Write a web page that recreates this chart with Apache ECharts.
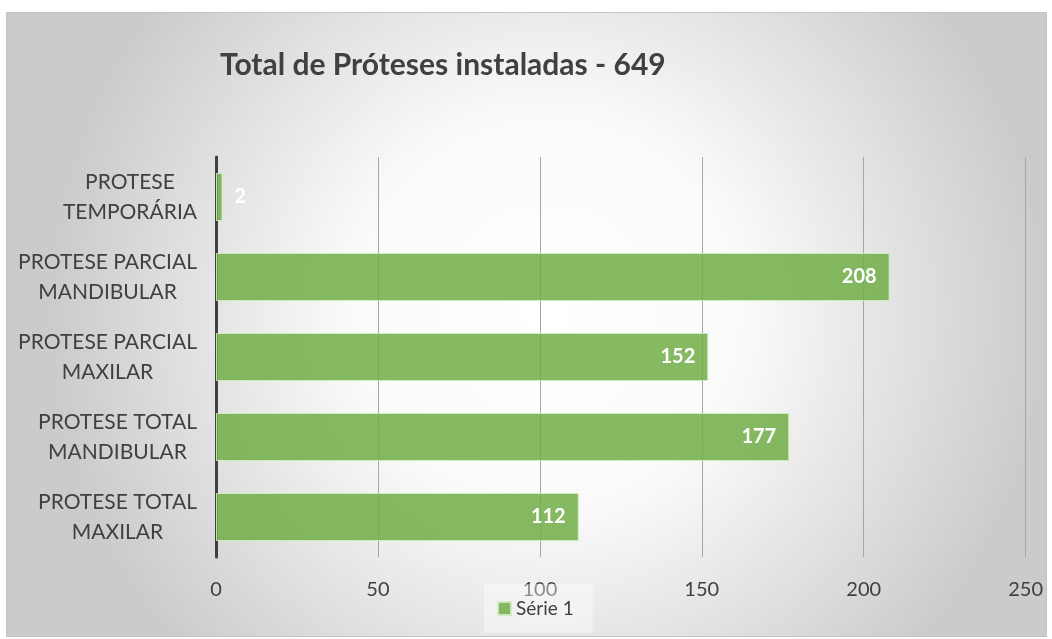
<!DOCTYPE html>
<html><head><meta charset="utf-8">
<script src="https://cdn.jsdelivr.net/npm/echarts@6/dist/echarts.min.js"></script>
<style>
html,body{margin:0;padding:0;background:#fff;width:1052px;height:639px;overflow:hidden}
#c{position:absolute;left:6px;top:12px;width:1039px;height:623px;border:1px solid #c4c4c4}
</style></head>
<body><div id="c"></div>
<script>
const titleText = 'Total de Próteses instaladas - 649';
const categories = ['PROTESE TOTAL\nMAXILAR','PROTESE TOTAL\nMANDIBULAR','PROTESE PARCIAL\nMAXILAR','PROTESE PARCIAL\nMANDIBULAR','PROTESE\nTEMPORÁRIA'];
const values = [112,177,152,208,2];
const seriesName = 'Série 1';
const xTicks = [0,50,100,150,200,250];

const font = 'Lato, "Open Sans", sans-serif';
const chart = echarts.init(document.getElementById('c'));
chart.setOption({
  backgroundColor: {type:'radial', x:0.52, y:0.48, r:0.8,
    colorStops:[{offset:0,color:'#ffffff'},{offset:0.4,color:'#fafafa'},{offset:1,color:'#cbcbcb'}]},
  textStyle:{fontFamily:font},
  title:{text:titleText, left:208, top:32,
    textStyle:{fontFamily:font, fontSize:30, fontWeight:'bold', color:'#404040'}},
  legend:{data:[seriesName], left:477, top:571, icon:'rect', itemWidth:13, itemHeight:13, itemGap:5,
    backgroundColor:'rgba(255,255,255,0.4)', padding:[15,19,15,13],
    textStyle:{fontFamily:font, fontSize:19, color:'#404040'}},
  grid:{left:209, right:19, top:144, bottom:79, containLabel:false},
  xAxis:{type:'value', min:xTicks[0], max:xTicks[xTicks.length-1], interval:50,
    axisLine:{show:false}, axisTick:{show:false},
    splitLine:{show:true, lineStyle:{color:'#a6a6a6', width:1}},
    axisLabel:{fontSize:20, color:'#404040', margin:23, fontFamily:font}},
  yAxis:{type:'category', data:categories,
    axisLine:{show:true, lineStyle:{color:'#404040', width:3}}, axisTick:{show:false},
    axisLabel:{fontSize:21, color:'#404040', margin:19, align:'right', lineHeight:30, fontFamily:font,
      formatter: v => v.split('\n').map(s=>'{a|'+s+'}').join('\n'),
      rich:{a:{align:'center', fontSize:21, lineHeight:30, color:'#404040', fontFamily:font}}}},
  series:[{name:seriesName, type:'bar', barCategoryGap:'40%',
    data: values.map(v => v < 20 ? {value:v, label:{position:'right', distance:12}} : v),
    itemStyle:{color:'rgba(112,173,71,0.85)', borderColor:'rgba(210,235,195,0.9)', borderWidth:1},
    label:{show:true, position:'insideRight', distance:13, color:'#ffffff', fontSize:20, fontWeight:'bold', fontFamily:font}
  }]
});
</script></body></html>
